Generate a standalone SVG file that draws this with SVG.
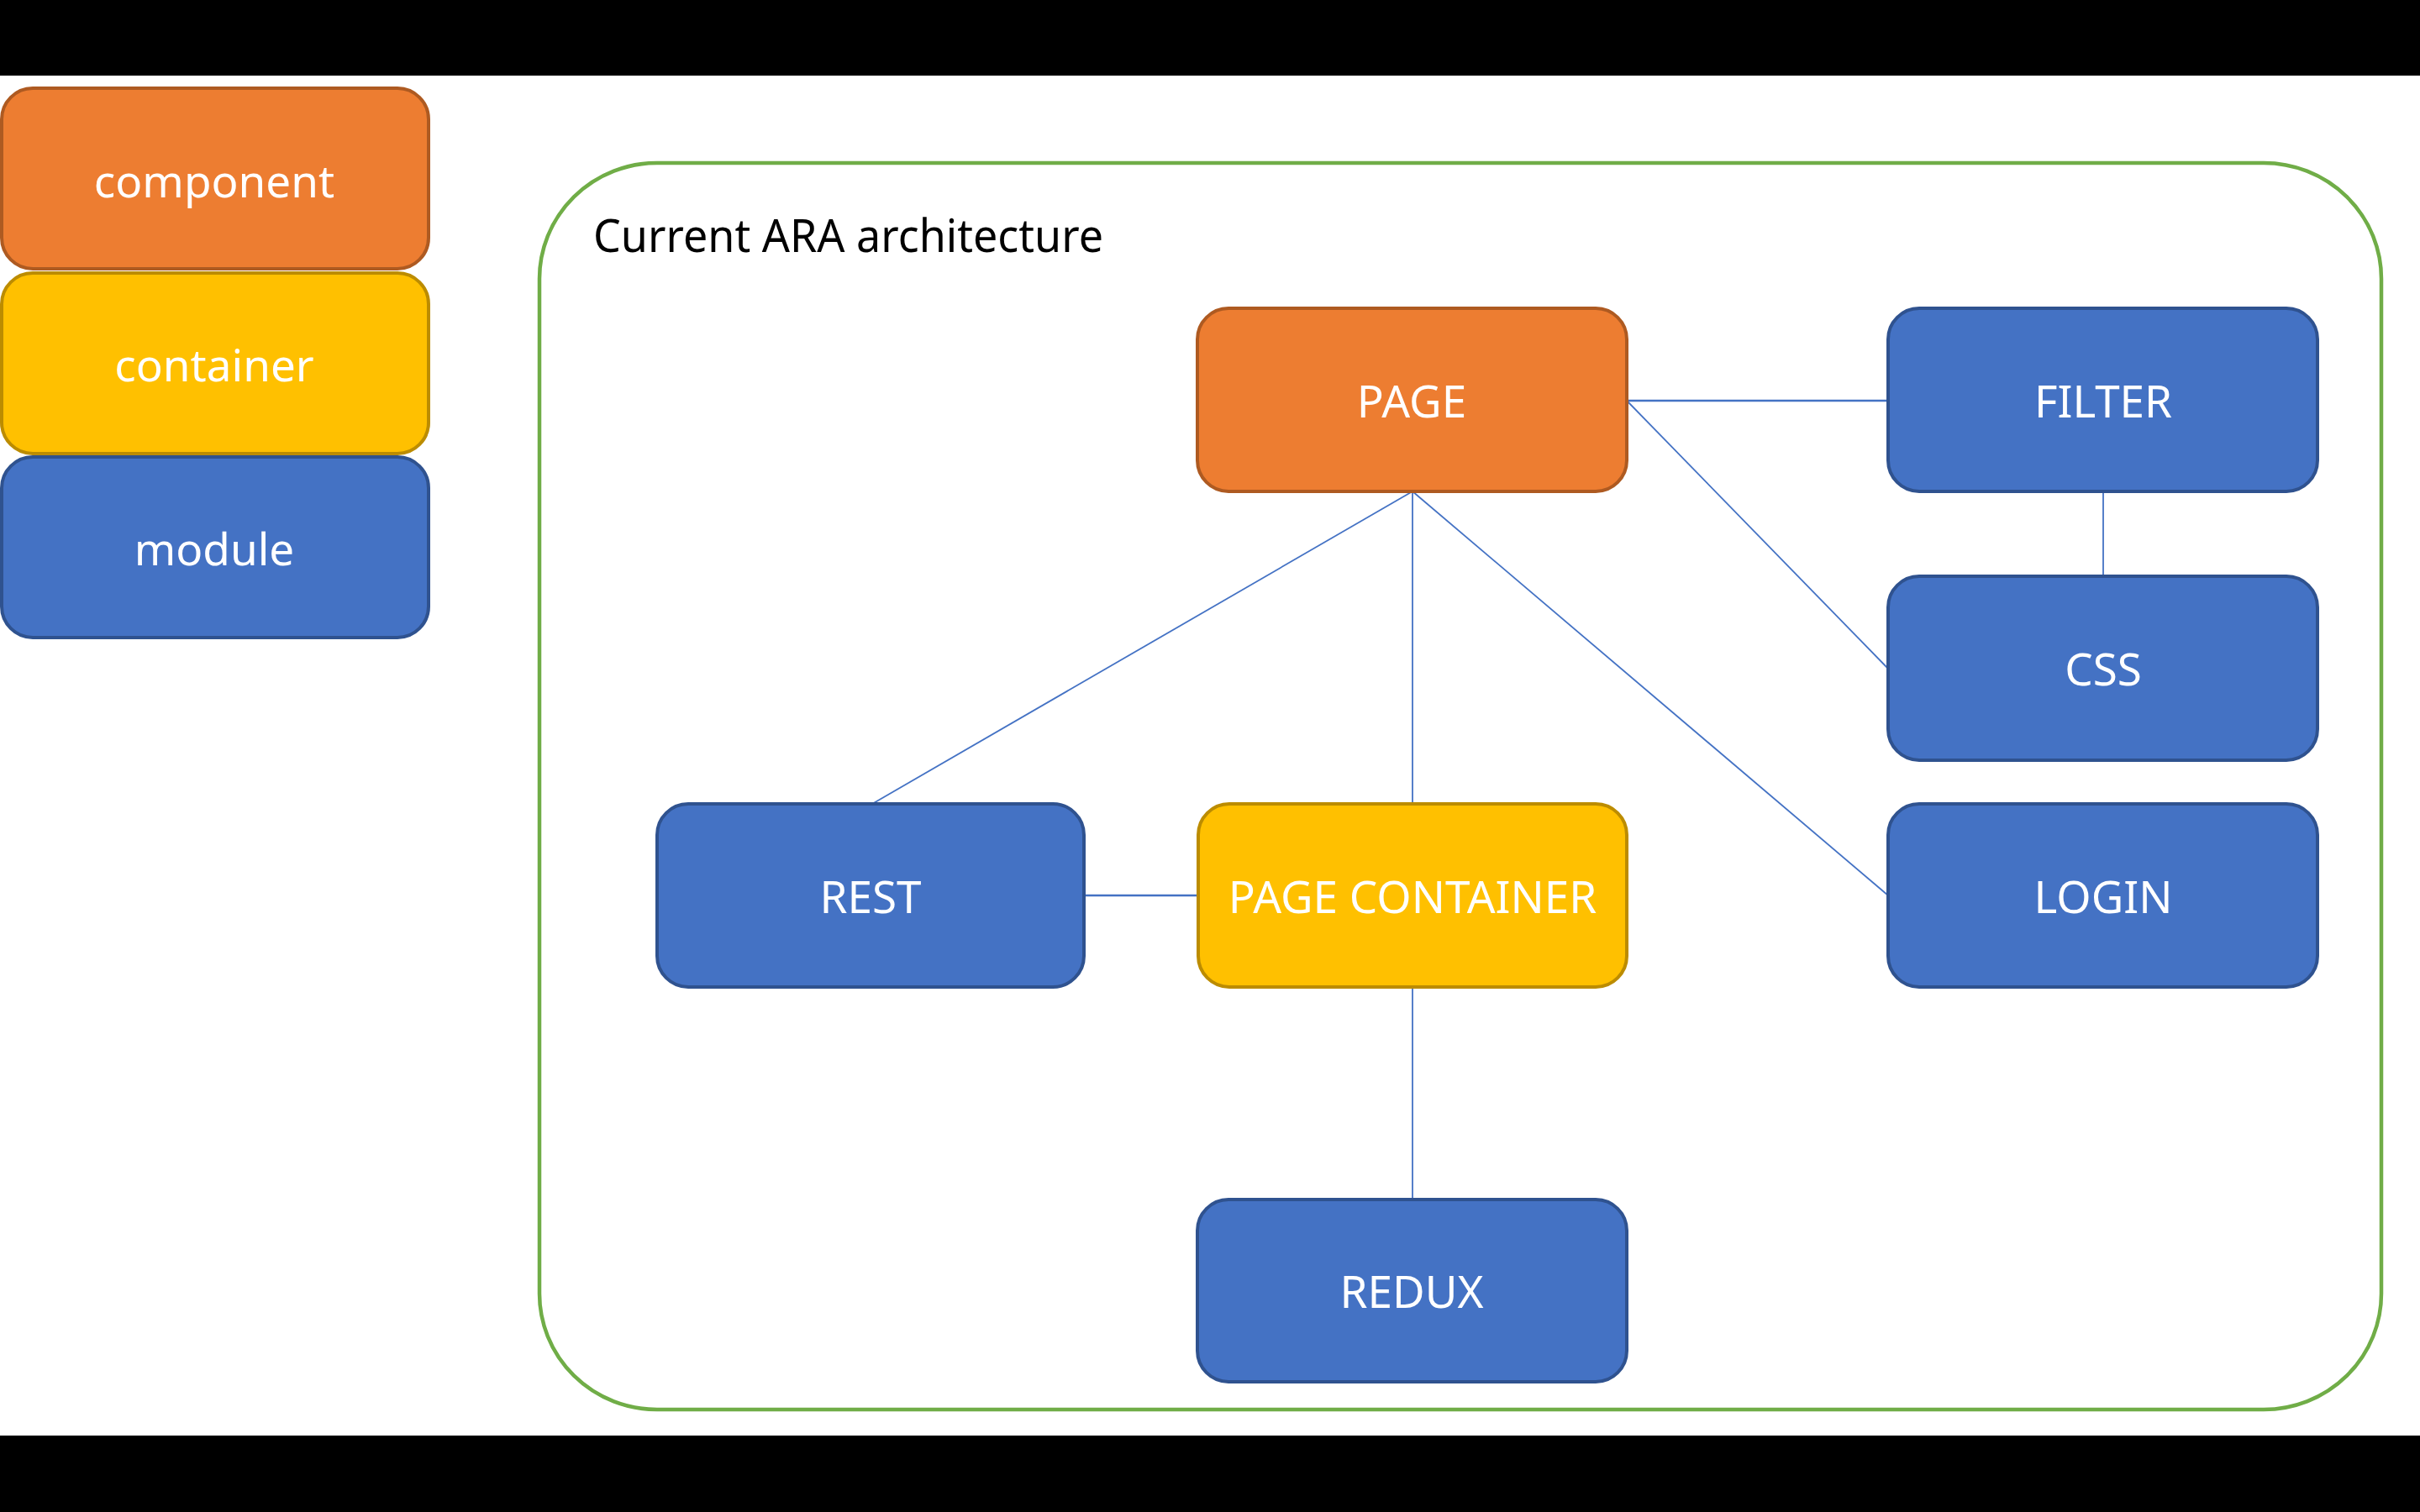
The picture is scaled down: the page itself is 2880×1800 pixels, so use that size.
<svg xmlns="http://www.w3.org/2000/svg" width="2880" height="1800" viewBox="0 0 2880 1800">
<style>
.box{stroke-width:4}
.comp{fill:#ED7D31;stroke:#AE5A21}
.cont{fill:#FFC000;stroke:#BC8C00}
.mod{fill:#4472C4;stroke:#2F528F}
.lbl{font-family:"Noto Sans","Open Sans",sans-serif;font-size:53px;fill:#FFFFFF;text-anchor:middle}
.leg{font-family:"Noto Sans","Open Sans",sans-serif;font-size:53px;fill:#FFFFFF;text-anchor:middle}
.edge{stroke:#4472C4;stroke-width:1.8;fill:none}
.edge2{stroke:#4472C4;stroke-width:2.5;fill:none}
</style>
<rect x="0" y="0" width="2880" height="1800" fill="#FFFFFF"/>
<rect x="0" y="0" width="2880" height="90" fill="#000000"/>
<rect x="0" y="1709" width="2880" height="91" fill="#000000"/>

<g id="legend">
<g id="legend-component"><rect class="box comp" x="2" y="105" width="508" height="215" rx="37"/><text class="leg" x="255" y="235">component</text></g>
<g id="legend-container"><rect class="box cont" x="2" y="325" width="508" height="215" rx="37"/><text class="leg" x="255" y="454">container</text></g>
<g id="legend-module"><rect class="box mod" x="2" y="544" width="508" height="215" rx="37"/><text class="leg" x="255" y="673">module</text></g>
</g>

<g id="frame">
<rect x="642" y="194" width="2192" height="1484" rx="140" ry="138" fill="none" stroke="#70AD47" stroke-width="4.5"/>
<text x="706" y="300" font-family="'Noto Sans','Open Sans',sans-serif" font-size="55" fill="#000000" textLength="607" lengthAdjust="spacingAndGlyphs">Current ARA architecture</text>
</g>

<g id="connectors">
<line class="edge2" x1="1936" y1="477" x2="2247" y2="477"/>
<line class="edge" x1="1937" y1="478" x2="2247" y2="796"/>
<line class="edge" x1="2503" y1="585" x2="2503" y2="686"/>
<line class="edge" x1="1681" y1="585" x2="1038" y2="957"/>
<line class="edge" x1="1681" y1="585" x2="1681" y2="957"/>
<line class="edge" x1="1681" y1="585" x2="2247" y2="1066"/>
<line class="edge2" x1="1290" y1="1066" x2="1426" y2="1066"/>
<line class="edge" x1="1681" y1="1175" x2="1681" y2="1428"/>
</g>

<g id="node-page"><rect class="box comp" x="1425" y="367" width="511" height="218" rx="37"/><text class="lbl" x="1680" y="497">PAGE</text></g>
<g id="node-filter"><rect class="box mod" x="2247" y="367" width="511" height="218" rx="37"/><text class="lbl" x="2503" y="497">FILTER</text></g>
<g id="node-css"><rect class="box mod" x="2247" y="686" width="511" height="219" rx="37"/><text class="lbl" x="2503" y="816">CSS</text></g>
<g id="node-rest"><rect class="box mod" x="782" y="957" width="508" height="218" rx="37"/><text class="lbl" x="1036" y="1087">REST</text></g>
<g id="node-page-container"><rect class="box cont" x="1426" y="957" width="510" height="218" rx="37"/><text class="lbl" x="1681" y="1087">PAGE CONTAINER</text></g>
<g id="node-login"><rect class="box mod" x="2247" y="957" width="511" height="218" rx="37"/><text class="lbl" x="2503" y="1087">LOGIN</text></g>
<g id="node-redux"><rect class="box mod" x="1425" y="1428" width="511" height="217" rx="37"/><text class="lbl" x="1680" y="1557">REDUX</text></g>
</svg>
